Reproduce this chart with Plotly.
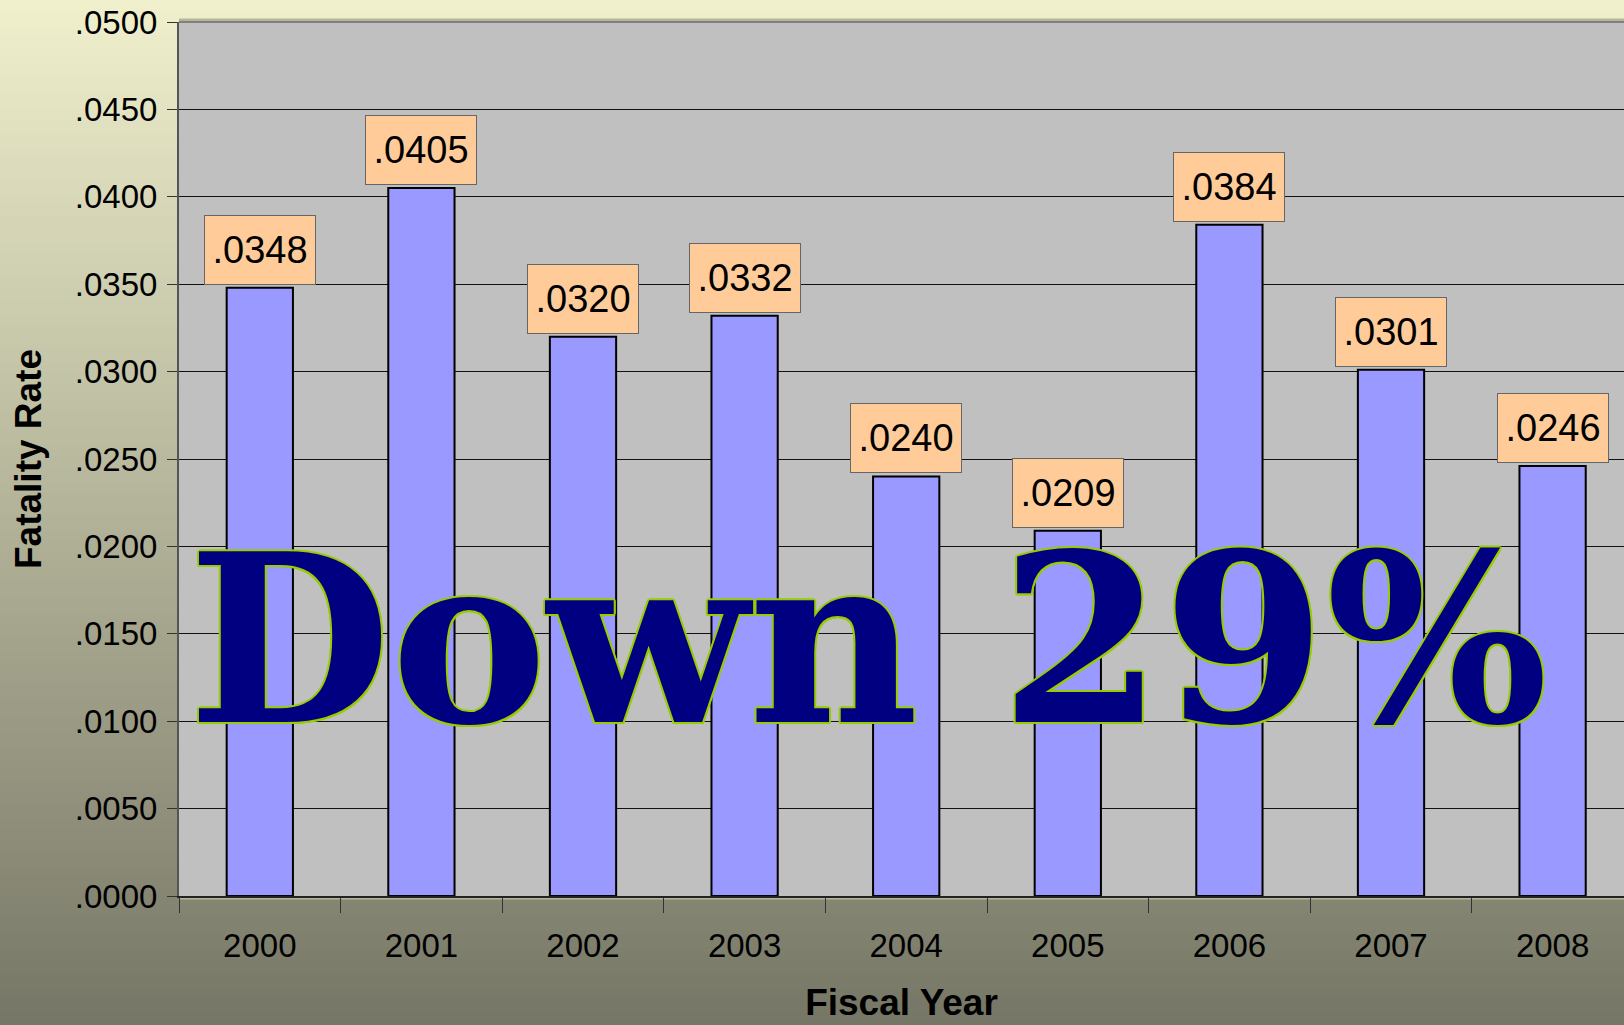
import plotly.graph_objects as go

years = ["2000", "2001", "2002", "2003", "2004", "2005", "2006", "2007", "2008"]
rates = [0.0348, 0.0405, 0.0320, 0.0332, 0.0240, 0.0209, 0.0384, 0.0301, 0.0246]
rate_labels = [".0348", ".0405", ".0320", ".0332", ".0240", ".0209", ".0384", ".0301", ".0246"]
y_tickvals = [0.0, 0.005, 0.010, 0.015, 0.020, 0.025, 0.030, 0.035, 0.040, 0.045, 0.050]
y_ticktext = [".0000", ".0050", ".0100", ".0150", ".0200", ".0250", ".0300", ".0350", ".0400", ".0450", ".0500"]
overlay_text = "Down 29%"

W, H = 1624, 1025
L, T, B = 179, 22, 896  # plot area pixels
R = W
pw, ph = R - L, B - T

fig = go.Figure()
fig.add_trace(go.Bar(
    x=years, y=rates, width=0.41,
    marker=dict(color="#9999FF", line=dict(color="#000000", width=2)),
    hoverinfo="x+y",
))

# background gradient (outside plot area)
top_c = (240, 240, 205)
bot_c = (118, 118, 102)

def col(p):
    t = p / H
    return "rgb(%d,%d,%d)" % tuple(round(a + (b - a) * t) for a, b in zip(top_c, bot_c))

def py(p):
    return (B - p) / ph

def px(p):
    return (p - L) / pw

shapes = []
step = 6
p = 0
while p < H:
    p2 = min(p + step, H)
    if p2 <= T or p >= B:
        x0, x1 = px(0), px(W)
    else:
        x0, x1 = px(0), 0.0
    shapes.append(dict(type="rect", xref="paper", yref="paper",
                       x0=x0, x1=x1, y0=py(p2) - 0.0005, y1=py(p) + 0.0005,
                       fillcolor=col((p + p2) / 2), line=dict(width=0), layer="below"))
    p = p2
# top border line of plot
shapes.append(dict(type="line", xref="paper", yref="paper", x0=0, x1=1, y0=1, y1=1,
                   line=dict(color="#808080", width=2), layer="above"))

annotations = []
for i, (v, lab) in enumerate(zip(rates, rate_labels)):
    annotations.append(dict(
        x=i, y=v, xref="x", yref="y", text=lab, showarrow=False,
        yanchor="bottom", yshift=3,
        font=dict(family="Arial, Liberation Sans, sans-serif", size=38, color="#000000"),
        bgcolor="#FFCC99", bordercolor="#666666", borderwidth=1, borderpad=4,
        width=102, height=60,
    ))

oc = "#99CC00"
shadow = ", ".join([f"{dx}px {dy}px 0 {oc}" for dx, dy in
                    [(2, 0), (-2, 0), (0, 2), (0, -2), (1.5, 1.5), (-1.5, -1.5), (1.5, -1.5), (-1.5, 1.5)]])
annotations.append(dict(
    x=px(868), y=py(639), xref="paper", yref="paper", text="<b>" + overlay_text + "</b>",
    showarrow=False, xanchor="center", yanchor="middle",
    font=dict(family="DejaVu Serif", size=234, color="#000080", shadow=shadow),
))

fig.update_layout(
    width=W, height=H,
    margin=dict(l=L, r=0, t=T, b=H - B, pad=0),
    paper_bgcolor="rgb(180,180,155)",
    plot_bgcolor="#C0C0C0",
    showlegend=False,
    shapes=shapes,
    annotations=annotations,
    xaxis=dict(
        type="category", range=[-0.5, (R - L) / 161.6 - 0.5],
        tickson="boundaries", ticks="outside", ticklen=15, tickwidth=1, tickcolor="#333333",
        showline=True, linecolor="#222222", linewidth=2,
        showgrid=False, zeroline=False,
        tickfont=dict(family="Arial, Liberation Sans, sans-serif", size=33, color="#000000"),
        ticklabelstandoff=19,
        title=dict(text="<b>Fiscal Year</b>", standoff=27,
                   font=dict(family="Arial, Liberation Sans, sans-serif", size=37, color="#000000")),
    ),
    yaxis=dict(
        range=[0, 0.05], tickvals=y_tickvals, ticktext=y_ticktext,
        ticks="outside", ticklen=10, tickwidth=1, tickcolor="#333333",
        showline=True, linecolor="#555555", linewidth=2,
        showgrid=True, gridcolor="#111111", gridwidth=1, zeroline=False,
        tickfont=dict(family="Arial, Liberation Sans, sans-serif", size=33, color="#000000"),
        ticklabelstandoff=3,
        title=dict(text="<b>Fatality Rate</b>", standoff=22,
                   font=dict(family="Arial, Liberation Sans, sans-serif", size=37, color="#000000")),
    ),
)

fig.write_html("out.html", config={"displayModeBar": False},
               post_script="document.body.style.margin='0';document.body.style.overflow='hidden';")
